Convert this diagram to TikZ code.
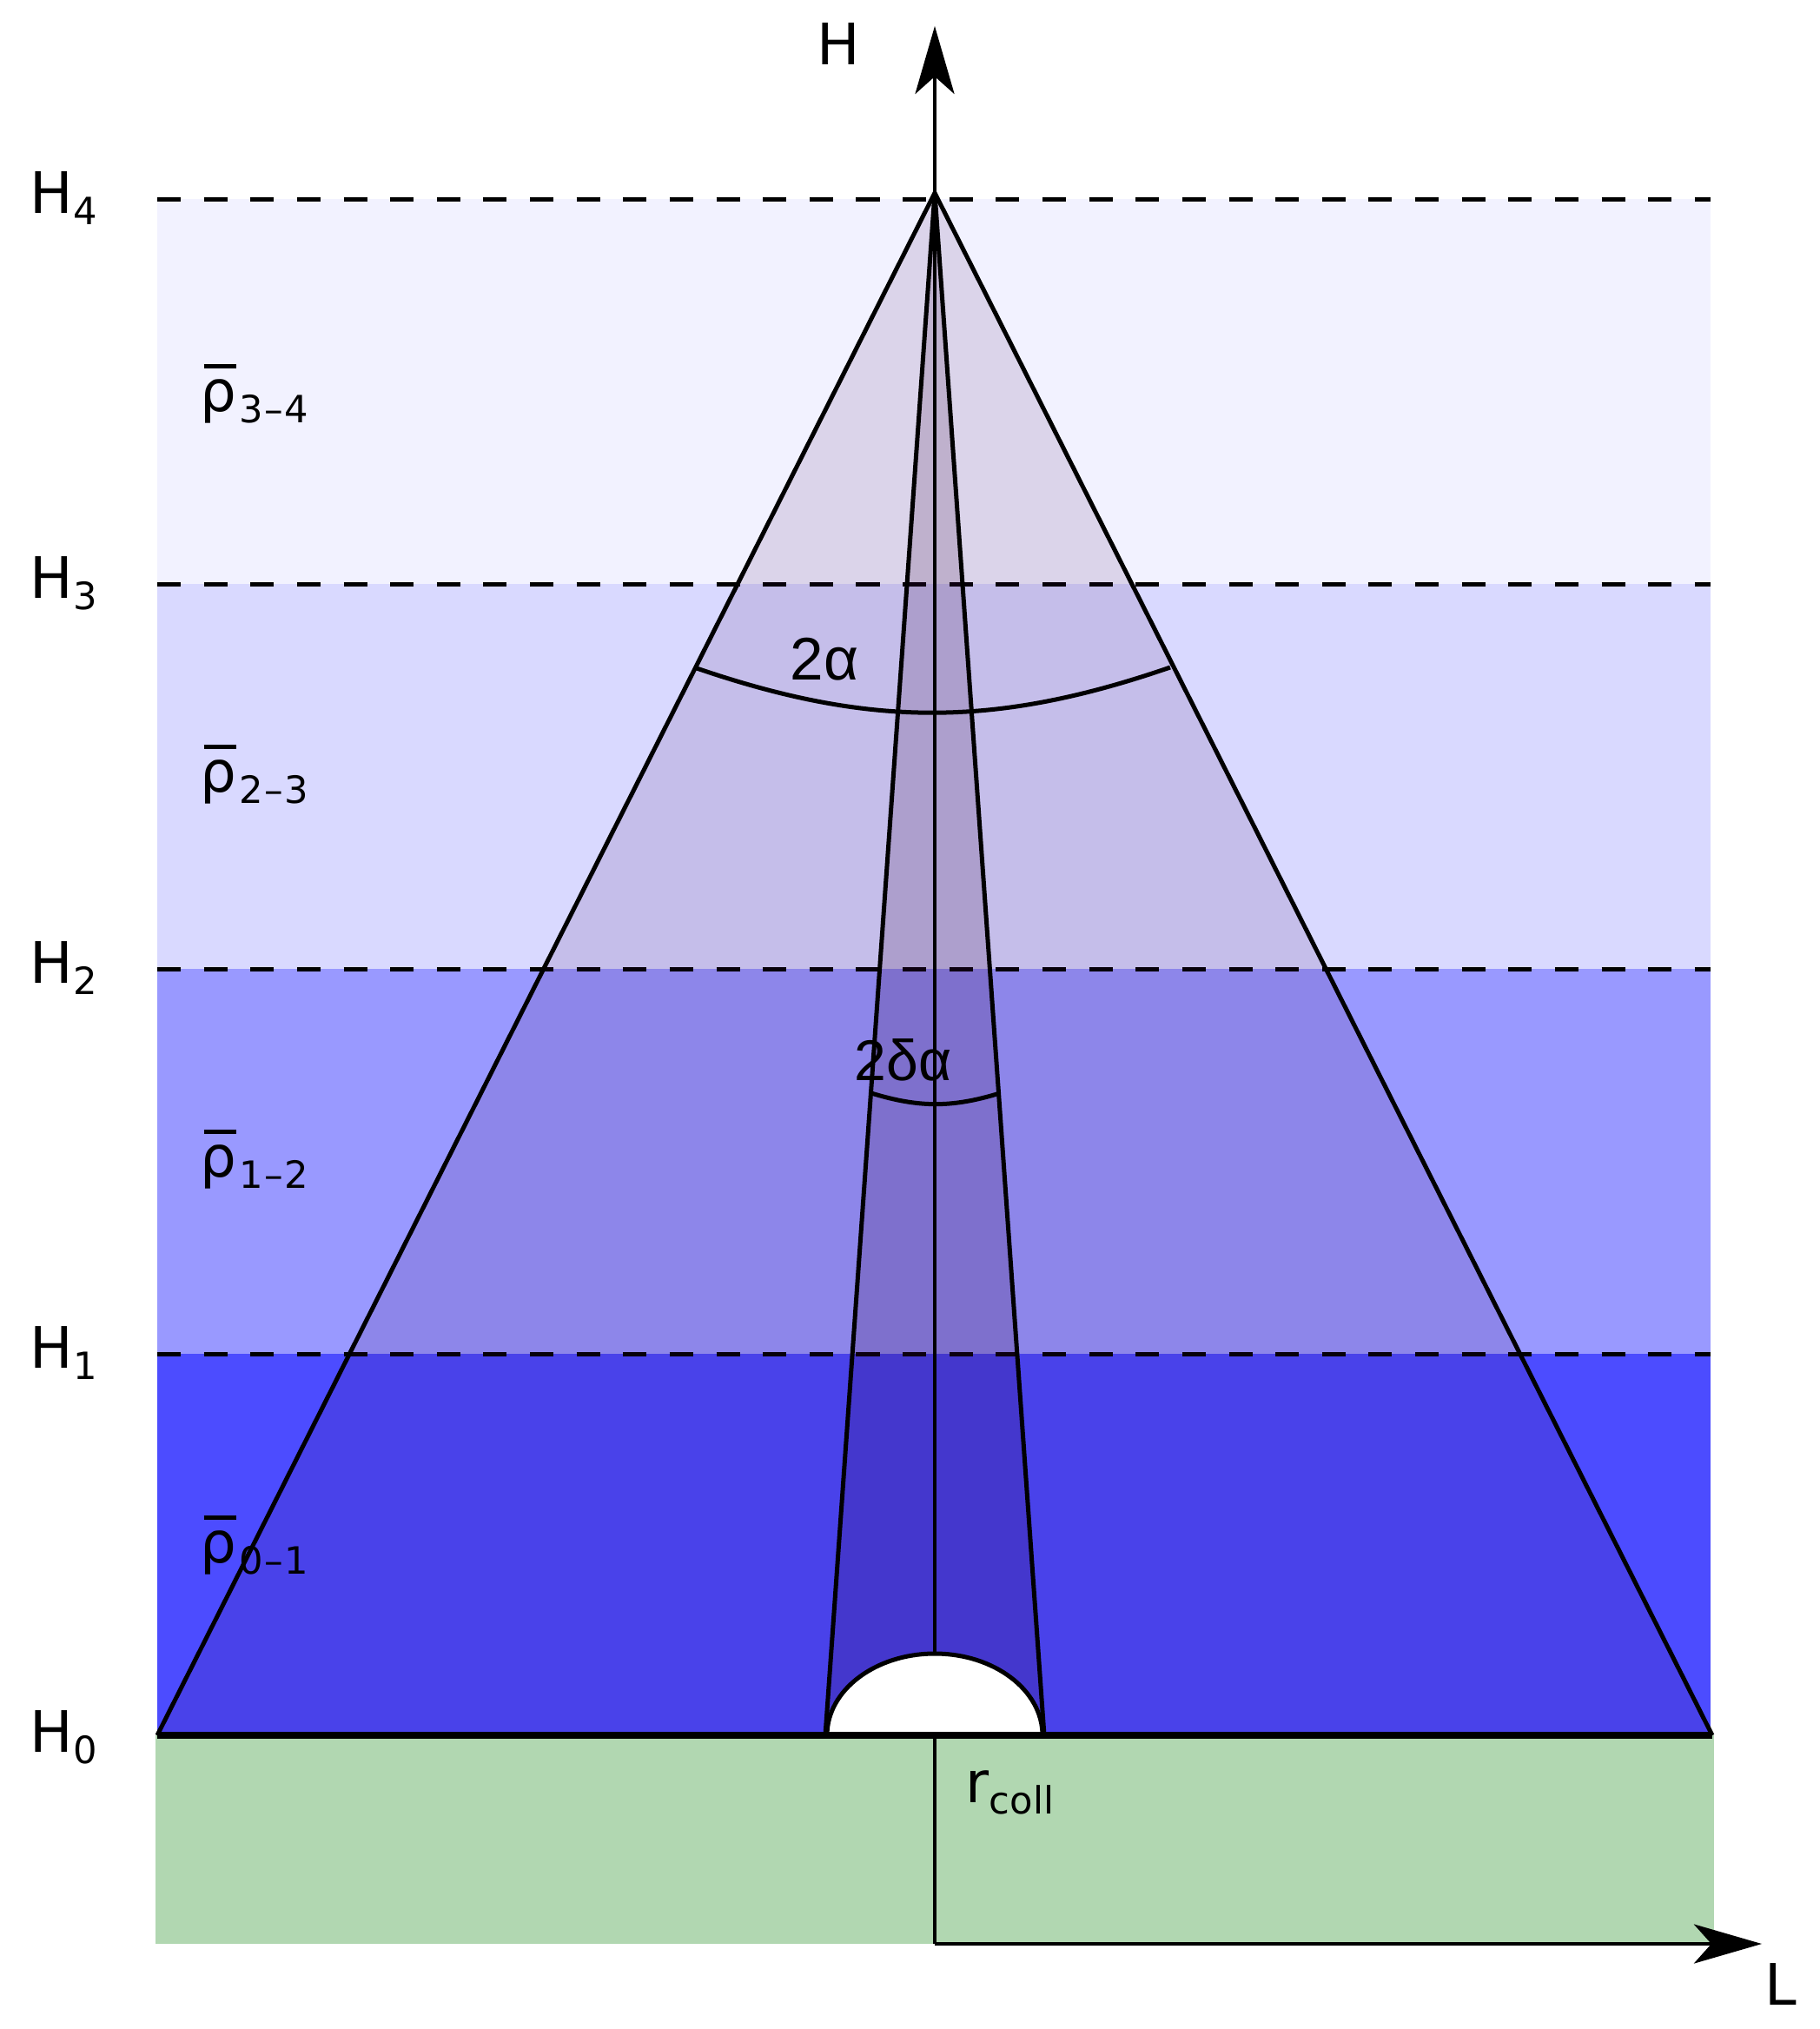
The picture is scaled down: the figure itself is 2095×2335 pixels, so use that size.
\documentclass[tikz,border=0pt]{standalone}
\usepackage{amsmath}
\usepackage{fontspec}
\setmainfont{DejaVu Sans}
\newfontfamily\anglefont{Liberation Sans}
\usetikzlibrary{arrows.meta}
\definecolor{groundgreen}{HTML}{B1D7B1}
\definecolor{coneshade}{HTML}{3A005A}
\definecolor{innershade}{HTML}{300038}
\newcommand{\lowsub}[1]{\raisebox{-0.2em}{\fontsize{12.3}{13}\selectfont #1}}
\newcommand{\rhobar}[2]{\hspace*{0.04cm}\makebox[0pt][l]{\rule[0.49cm]{0.37cm}{0.045cm}}\hspace*{-0.04cm}ρ\hspace*{0.03cm}\lowsub{#1\kern0.013cm–\kern0.013cm#2}}
\tikzset{
  labeltext/.style={inner sep=0pt,anchor=base west,font=\fontsize{18.7}{20}\selectfont},
  angletext/.style={inner sep=0pt,anchor=base west,font=\anglefont\fontsize{19.7}{22}\selectfont},
  thinline/.style={line width=0.05cm},
  levelline/.style={line width=0.05cm,dash pattern=on 0.27cm off 0.266cm},
  axisline/.style={line width=0.045cm,-{Stealth[length=0.78cm,width=0.45cm,inset=0.2cm]}},
  coneface/.style={fill=coneshade,fill opacity=0.12},
}
\begin{document}
\begin{tikzpicture}[x=0.01cm,y=-0.01cm]
\useasboundingbox (0,0) rectangle (2095,2335);
% layers and ground
\fill[blue!5] (181,229) rectangle (1969,672);
\fill[blue!15] (181,672) rectangle (1969,1115);
\fill[blue!40] (181,1115) rectangle (1969,1558);
\fill[blue!70] (181,1558) rectangle (1969,1997);
\fill[groundgreen] (179,1997) rectangle (1973,2237);
\foreach \ypos in {229,672,1115,1558}
  \draw[levelline] (181,\ypos) -- (1969,\ypos);
% points of the cones
\coordinate (apex) at (1076,222);
\coordinate (outerleft) at (181,1997);
\coordinate (outerright) at (1971,1997);
\coordinate (innerleft) at (950,1997);
\coordinate (innerright) at (1202,1997);
\coordinate (origin) at (1076,2237);
\coordinate (axisH) at (1076,30);
\coordinate (axisL) at (2028,2237);
\coordinate (bigarcleft) at (799,768);
\coordinate (bigarcright) at (1347,768);
\coordinate (smallarcleft) at (1003,1258);
\coordinate (smallarcright) at (1151,1258);
\fill[coneface] (apex) -- (outerleft) -- (outerright) -- cycle;
\fill[fill=innershade,fill opacity=0.16] (apex) -- (innerleft) -- (innerright) -- cycle;
\draw[thinline] (outerleft) -- (apex) -- (outerright);
\draw[thinline] (innerleft) -- (apex) -- (innerright);
\draw[axisline] (origin) -- (axisH);
\draw[axisline] (origin) -- (axisL);
\draw[thinline] (bigarcleft) to[bend right=19] (bigarcright);
\draw[thinline] (smallarcleft) to[bend right=17] (smallarcright);
% collection area
\draw[thinline,fill=white] (952,1997) arc[start angle=180,end angle=360,x radius=124,y radius=94];
\draw[line width=0.08cm] (outerleft) -- (outerright);
% labels
\node[labeltext] (labH) at (940,74) {H};
\node[labeltext] (labL) at (2031,2307) {L};
\node[labeltext] (labHfour) at (34,245) {H\lowsub{4}};
\node[labeltext] (labHthree) at (34,688) {H\lowsub{3}};
\node[labeltext] (labHtwo) at (34,1131) {H\lowsub{2}};
\node[labeltext] (labHone) at (34,1574) {H\lowsub{1}};
\node[labeltext] (labHzero) at (34,2016) {H\lowsub{0}};
\node[labeltext] (rhothreefour) at (230,473) {\rhobar{3}{4}};
\node[labeltext] (rhotwothree) at (230,911) {\rhobar{2}{3}};
\node[labeltext] (rhoonetwo) at (230,1354) {\rhobar{1}{2}};
\node[labeltext] (rhozeroone) at (230,1798) {\rhobar{0}{1}};
\node[labeltext] (rcoll) at (1111,2074) {r\lowsub{coll}};
\node[angletext] (bigangle) at (909,782) {2α};
\node[angletext,font=\anglefont\fontsize{18.8}{20}\selectfont] (smallangle) at (983,1243) {2δα};
\end{tikzpicture}
\end{document}
